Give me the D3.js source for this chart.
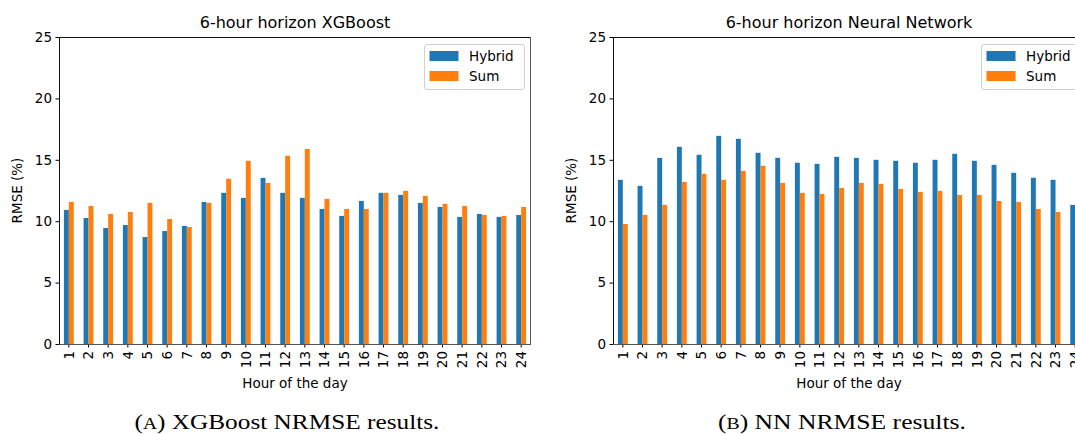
<!DOCTYPE html>
<html>
<head>
<meta charset="utf-8">
<script src="https://cdn.jsdelivr.net/npm/d3@7"></script>
<style>
  html, body { margin: 0; padding: 0; background: #fff; overflow: hidden; }
  svg { display: block; }
</style>
</head>
<body>
<svg id="chart" width="1075" height="434"></svg>
<script>
// ---- data ----
const hours = ["1","2","3","4","5","6","7","8","9","10","11","12","13","14","15","16","17","18","19","20","21","22","23","24"];
const seriesNames = ["Hybrid", "Sum"];
const xgbHybrid = [10.92,10.26,9.45,9.69,8.71,9.20,9.61,11.57,12.31,11.90,13.53,12.31,11.90,11.00,10.43,11.65,12.31,12.14,11.49,11.16,10.35,10.59,10.35,10.51];
const xgbSum    = [11.57,11.24,10.59,10.75,11.49,10.18,9.53,11.49,13.45,14.92,13.12,15.33,15.88,11.82,11.00,11.00,12.31,12.47,12.06,11.41,11.24,10.51,10.43,11.16];
const nnHybrid  = [13.37,12.88,15.16,16.06,15.41,16.95,16.71,15.57,15.16,14.76,14.67,15.24,15.16,15.00,14.92,14.76,15.00,15.49,14.92,14.59,13.94,13.54,13.37,11.33];
const nnSum     = [9.77,10.51,11.33,13.20,13.86,13.37,14.10,14.51,13.12,12.31,12.22,12.71,13.12,13.04,12.63,12.39,12.47,12.14,12.14,11.65,11.57,11.00,10.75,10.80];
const yTicks = [0, 5, 10, 15, 20, 25];
const titles = ["6-hour horizon XGBoost", "6-hour horizon Neural Network"];
const xLabel = "Hour of the day";
const yLabel = "RMSE (%)";
const captions = [["(", "A", ") XGBoost NRMSE results."], ["(", "B", ") NN NRMSE results."]];
const colors = ["#1f77b4", "#ff7f0e"];

const svg = d3.select("#chart");
svg.append("rect").attr("width", 1075).attr("height", 434).attr("fill", "#fff");

const FONT = "DejaVu Sans, sans-serif";
const plotTop = 37, plotBottom = 344;

const panels = [
  { x0: 59, x1: 531, data: [xgbHybrid, xgbSum], legendX: 424, capX: 287, capW: 305 },
  { x0: 613, x1: 1085, data: [nnHybrid, nnSum], legendX: 981, capX: 842, capW: 248 }
];

panels.forEach((p, pi) => {
  const g = svg.append("g");
  const x = d3.scaleBand().domain(hours).range([p.x0, p.x1]).paddingInner(0.5).paddingOuter(0.25);
  const xs = d3.scaleBand().domain(seriesNames).range([0, x.bandwidth()]);
  const y = d3.scaleLinear().domain([0, 25]).range([plotBottom, plotTop]);

  // bars
  seriesNames.forEach((s, si) => {
    g.append("g").selectAll("rect").data(p.data[si]).join("rect")
      .attr("x", (d, i) => x(hours[i]) + xs(s))
      .attr("y", d => y(d))
      .attr("width", xs.bandwidth())
      .attr("height", d => y(0) - y(d))
      .attr("fill", colors[si]);
  });

  // axes
  const yAxis = d3.axisLeft(y).tickValues(yTicks).tickSize(3.5).tickPadding(3.5);
  const ya = g.append("g").attr("transform", `translate(${p.x0},0)`).call(yAxis);
  ya.select(".domain").remove();
  ya.selectAll("text").attr("font-family", FONT).attr("font-size", 13.5).attr("fill", "#000");
  ya.selectAll("line").attr("stroke", "#000");

  const xAxis = d3.axisBottom(x).tickSize(3.5).tickPadding(0);
  const xa = g.append("g").attr("transform", `translate(0,${plotBottom})`).call(xAxis);
  xa.select(".domain").remove();
  xa.selectAll("line").attr("stroke", "#000");
  xa.selectAll("text")
    .attr("font-family", FONT).attr("font-size", 13.5).attr("fill", "#000")
    .attr("transform", "translate(0,7) rotate(-90)")
    .attr("text-anchor", "end").attr("dy", "0.35em").attr("x", 0).attr("y", 0);

  // frame
  g.append("line").attr("x1", p.x0).attr("x2", p.x1).attr("y1", plotTop + 0.5).attr("y2", plotTop + 0.5).attr("stroke", "#111");
  g.append("line").attr("x1", p.x0 + 0.5).attr("x2", p.x0 + 0.5).attr("y1", plotTop).attr("y2", plotBottom).attr("stroke", "#111");
  g.append("line").attr("x1", p.x1 - 0.5).attr("x2", p.x1 - 0.5).attr("y1", plotTop).attr("y2", plotBottom).attr("stroke", "#555");
  g.append("line").attr("x1", p.x0).attr("x2", p.x1).attr("y1", plotBottom + 0.5).attr("y2", plotBottom + 0.5).attr("stroke", "#555");

  // title & labels
  const cx = (p.x0 + p.x1) / 2;
  g.append("text").attr("x", cx).attr("y", 28).attr("text-anchor", "middle")
    .attr("font-family", FONT).attr("font-size", 16).text(titles[pi]);
  g.append("text").attr("x", cx).attr("y", 388).attr("text-anchor", "middle")
    .attr("font-family", FONT).attr("font-size", 13.5).text(xLabel);
  g.append("text").attr("transform", `translate(${p.x0 - 37},${(plotTop + plotBottom) / 2}) rotate(-90)`)
    .attr("text-anchor", "middle").attr("font-family", FONT).attr("font-size", 13.5).text(yLabel);

  // legend
  const lg = g.append("g").attr("transform", `translate(${p.legendX},44)`);
  lg.append("rect").attr("x", 0.5).attr("y", 0.5).attr("width", 100).attr("height", 45).attr("rx", 2.5)
    .attr("fill", "#fff").attr("fill-opacity", 0.8).attr("stroke", "#d0d0d0");
  seriesNames.forEach((s, si) => {
    lg.append("rect").attr("x", 5.5).attr("y", 7 + si * 20).attr("width", 29).attr("height", 10).attr("fill", colors[si]);
    lg.append("text").attr("x", 45).attr("y", 12 + si * 20).attr("dy", "0.35em")
      .attr("font-family", FONT).attr("font-size", 13.5).text(s);
  });

  // caption (real text, horizontally condensed to the reference width)
  const c = captions[pi];
  const cg = svg.append("g");
  const t = cg.append("text").attr("x", 0).attr("y", 0)
    .attr("font-family", "Liberation Serif, serif").attr("font-size", 21.5);
  t.append("tspan").text(c[0]);
  t.append("tspan").attr("font-size", 16.5).text(c[1]);
  t.append("tspan").text(c[2]);
  const w = t.node().getBBox().width;
  const k = p.capW / w;
  cg.attr("transform", `translate(${p.capX - p.capW / 2},428.5) scale(${k},1)`);
});
</script>
</body>
</html>
